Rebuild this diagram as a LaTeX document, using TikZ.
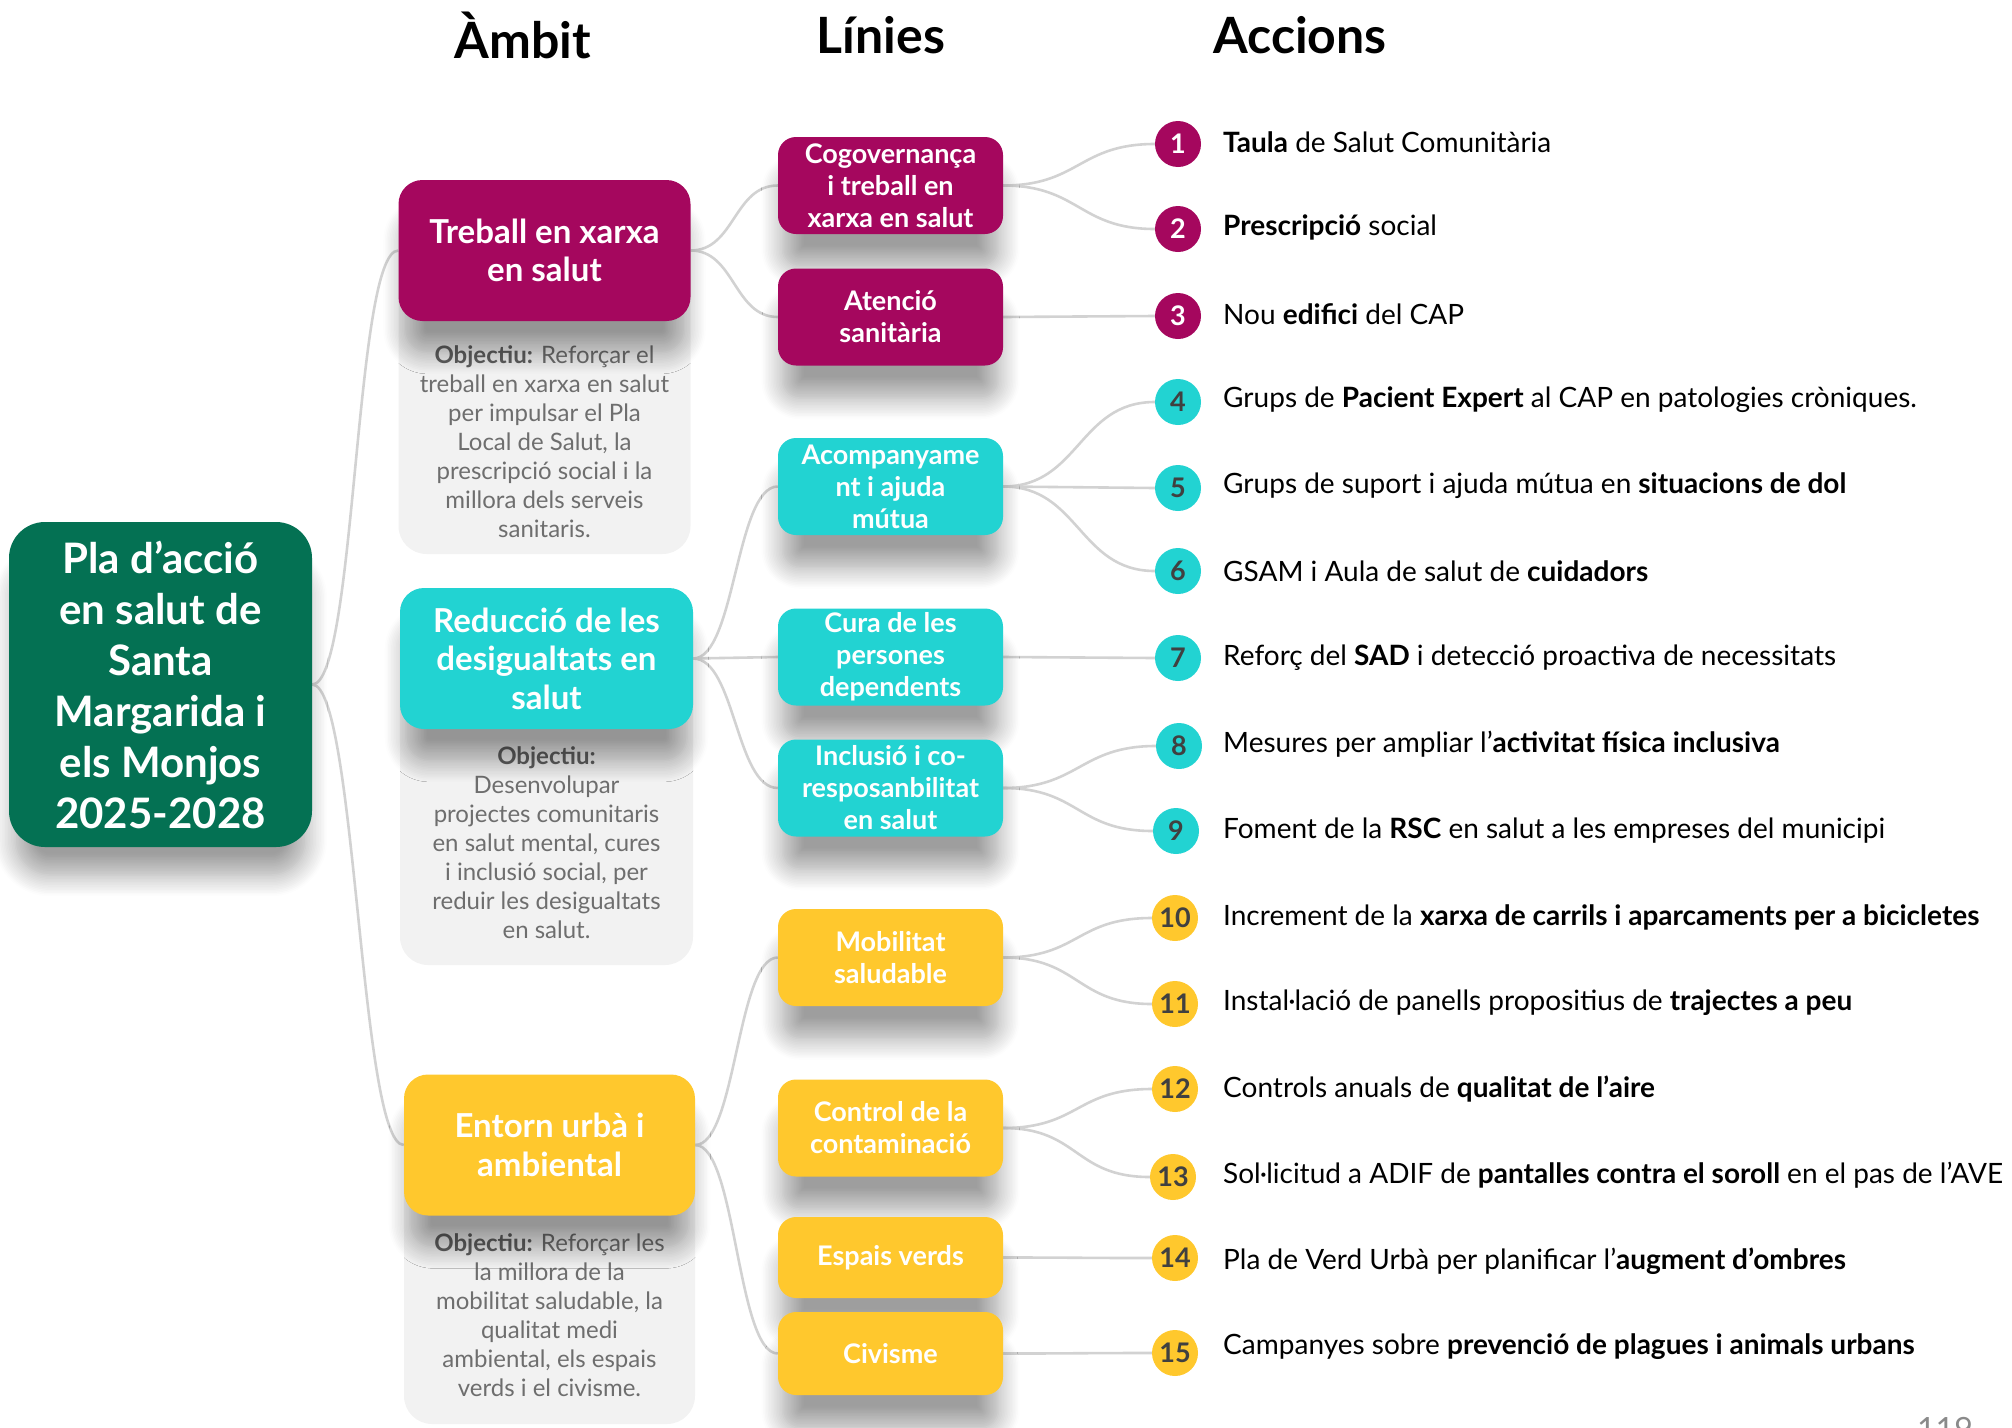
\documentclass[tikz,border=0pt]{standalone}
\usepackage{fontspec}
\setmainfont{Lato}
\usetikzlibrary{shadows.blur}
\pgfdeclarelayer{bg}
\pgfsetlayers{bg,main}
\definecolor{cmag}{HTML}{A5075E}
\definecolor{ccya}{HTML}{22D3D2}
\definecolor{cyel}{HTML}{FFC82D}
\definecolor{cgrn}{HTML}{047153}
\definecolor{cobj}{HTML}{F2F2F2}
\definecolor{cline}{HTML}{D2D2D2}
\definecolor{ctxt}{HTML}{6E6E6E}
\definecolor{cobjb}{HTML}{606060}
\definecolor{cnum}{HTML}{404040}
\definecolor{cpage}{HTML}{8A8A8A}
\tikzset{
  shad/.style={blur shadow={shadow xshift=0pt, shadow yshift=-36pt, shadow opacity=38, shadow blur radius=22pt, shadow blur steps=14, shadow scale=0.96}},
  box/.style={shad, inner sep=0pt, align=center, text=white},
  rootbox/.style={box, fill=cgrn, minimum width=303pt, minimum height=325pt, rounded corners=36pt, font=\fontsize{42}{51}\selectfont\bfseries},
  ambbox/.style={box, minimum width=292pt, minimum height=141pt, rounded corners=24pt, font=\fontsize{33}{38.5}\selectfont\bfseries},
  linbox/.style={box, minimum width=225pt, minimum height=97pt, rounded corners=18pt, font=\fontsize{27}{32}\selectfont\bfseries},
  objbox/.style={fill=cobj, rounded corners=28pt, minimum width=292pt, inner sep=0pt},
  objtxt/.style={align=center, text=ctxt, inner sep=0pt, font=\fontsize{24}{29}\selectfont},
  numc/.style={circle, minimum size=46pt, inner sep=0pt, font=\fontsize{27}{27}\selectfont\bfseries},
  act/.style={anchor=west, inner sep=0pt, text=black, font=\fontsize{28}{30}\selectfont},
  conn/.style={draw=cline, line width=2.6pt},
  hdr/.style={inner sep=0pt, font=\fontsize{50}{54}\selectfont\bfseries}
}
\newcommand{\ob}[1]{\textbf{\color{cobjb}#1}}
\begin{document}
\begin{tikzpicture}[x=1pt,y=-1pt]
\useasboundingbox (0,0) rectangle (2012,1427);

% headers
\node[hdr] (h1) at (523,35) {Àmbit};
\node[hdr] (h2) at (881,35) {Línies};
\node[hdr] (h3) at (1300,35) {Accions};

% objective boxes (behind)
\node[objbox, minimum height=354pt] (ob1) at (544.5,377) {};
\node[objbox, minimum height=357pt, minimum width=293pt] (ob2) at (546.5,786.5) {};
\node[objbox, minimum height=329pt, minimum width=291pt] (ob3) at (549.5,1259.5) {};

\node[objtxt] (ot1) at (544.5,442) {\ob{Objectiu:} Reforçar el\\treball en xarxa en salut\\per impulsar el Pla\\Local de Salut, la\\prescripció social i la\\millora dels serveis\\sanitaris.};
\node[objtxt] (ot2) at (546.5,843) {\ob{Objectiu:}\\Desenvolupar\\projectes comunitaris\\en salut mental, cures\\i inclusió social, per\\reduir les desigualtats\\en salut.};
\node[objtxt] (ot3) at (549.5,1315) {\ob{Objectiu:} Reforçar les\\la millora de la\\mobilitat saludable, la\\qualitat medi\\ambiental, els espais\\verds i el civisme.};

% root
\node[rootbox] (root) at (160.5,684.5) {Pla d’acció\\en salut de\\Santa\\Margarida i\\els Monjos\\2025-2028};

% ambit
\node[ambbox, fill=cmag] (am1) at (544.5,250.5) {Treball en xarxa\\en salut};
\node[ambbox, fill=ccya, minimum width=293pt] (am2) at (546.5,658.5) {Reducció de les\\desigualtats en\\salut};
\node[ambbox, fill=cyel, minimum width=291pt] (am3) at (549.5,1145) {Entorn urbà i\\ambiental};

% linies
\node[linbox, fill=cmag] (l1) at (890.5,185.5) {Cogovernança\\i treball en\\xarxa en salut};
\node[linbox, fill=cmag] (l2) at (890.5,317) {Atenció\\sanitària};
\node[linbox, fill=ccya] (l3) at (890.5,486.5) {Acompanyame\\nt i ajuda\\mútua};
\node[linbox, fill=ccya] (l4) at (890.5,657) {Cura de les\\persones\\dependents};
\node[linbox, fill=ccya] (l5) at (890.5,788) {Inclusió i co-\\resposanbilitat\\en salut};
\node[linbox, fill=cyel] (l6) at (890.5,957.5) {Mobilitat\\saludable};
\node[linbox, fill=cyel] (l7) at (890.5,1128) {Control de la\\contaminació};
\node[linbox, fill=cyel, minimum height=81pt] (l8) at (890.5,1257.5) {Espais verds};
\node[linbox, fill=cyel, minimum height=83pt] (l9) at (890.5,1353.5) {Civisme};

% numbers
\node[numc, fill=cmag, text=white] (n1) at (1178,144) {1};
\node[numc, fill=cmag, text=white] (n2) at (1178,229) {2};
\node[numc, fill=cmag, text=white] (n3) at (1178,316) {3};
\node[numc, fill=ccya, text=cnum] (n4) at (1178,402) {4};
\node[numc, fill=ccya, text=cnum] (n5) at (1178,488) {5};
\node[numc, fill=ccya, text=cnum] (n6) at (1178,571) {6};
\node[numc, fill=ccya, text=cnum] (n7) at (1178,658) {7};
\node[numc, fill=ccya, text=cnum] (n8) at (1179,746) {8};
\node[numc, fill=ccya, text=cnum] (n9) at (1176,831) {9};
\node[numc, fill=cyel, text=cnum] (n10) at (1175,918) {10};
\node[numc, fill=cyel, text=cnum] (n11) at (1175,1004) {11};
\node[numc, fill=cyel, text=cnum] (n12) at (1175,1089) {12};
\node[numc, fill=cyel, text=cnum] (n13) at (1173,1177) {13};
\node[numc, fill=cyel, text=cnum] (n14) at (1175,1258) {14};
\node[numc, fill=cyel, text=cnum] (n15) at (1175,1353) {15};

% actions
\node[act] (a1) at (1223,142) {\textbf{Taula} de Salut Comunitària};
\node[act] (a2) at (1223,227) {\textbf{Prescripció} social};
\node[act] (a3) at (1223,314) {Nou \textbf{edifici} del CAP};
\node[act] (a4) at (1223,400) {Grups de \textbf{Pacient Expert} al CAP en patologies cròniques.};
\node[act] (a5) at (1223,486) {Grups de suport i ajuda mútua en \textbf{situacions de dol}};
\node[act] (a6) at (1223,571) {GSAM i Aula de salut de \textbf{cuidadors}};
\node[act] (a7) at (1223,658) {Reforç del \textbf{SAD} i detecció proactiva de necessitats};
\node[act] (a8) at (1223,744) {Mesures per ampliar l’\textbf{activitat física inclusiva}};
\node[act] (a9) at (1223,831) {Foment de la \textbf{RSC} en salut a les empreses del municipi};
\node[act] (a10) at (1223,917) {Increment de la \textbf{xarxa de carrils i aparcaments per a bicicletes}};
\node[act] (a11) at (1223,1003) {Instal·lació de panells propositius de \textbf{trajectes a peu}};
\node[act] (a12) at (1223,1089) {Controls anuals de \textbf{qualitat de l’aire}};
\node[act] (a13) at (1223,1175) {Sol·licitud a ADIF de \textbf{pantalles contra el soroll} en el pas de l’AVE};
\node[act] (a14) at (1223,1261) {Pla de Verd Urbà per planificar l’\textbf{augment d’ombres}};
\node[act] (a15) at (1223,1347) {Campanyes sobre \textbf{prevenció de plagues i animals urbans}};

\node[anchor=base, inner sep=0pt, text=cpage, font=\fontsize{32}{32}\selectfont] (pg) at (1945,1440) {119};

% connectors (behind)
\begin{pgfonlayer}{bg}
\draw[conn] (root.east) .. controls +(44,0) and +(-44,0) .. (am1.west);
\draw[conn] (root.east) .. controls +(44,0) and +(-44,0) .. (am3.west);
\draw[conn] (am1.east) .. controls +(44,0) and +(-44,0) .. (l1.west);
\draw[conn] (am1.east) .. controls +(44,0) and +(-44,0) .. (l2.west);
\draw[conn] (am2.east) .. controls +(42,0) and +(-42,0) .. (l3.west);
\draw[conn] (am2.east) .. controls +(42,0) and +(-42,0) .. (l4.west);
\draw[conn] (am2.east) .. controls +(42,0) and +(-42,0) .. (l5.west);
\draw[conn] (am3.east) .. controls +(41,0) and +(-41,0) .. (l6.west);
\draw[conn] (am3.east) .. controls +(41,0) and +(-41,0) .. (l9.west);
\draw[conn] (l1.east) .. controls +(76,0) and +(-76,0) .. (n1.west);
\draw[conn] (l1.east) .. controls +(76,0) and +(-76,0) .. (n2.west);
\draw[conn] (l2.east) .. controls +(76,0) and +(-76,0) .. (n3.west);
\draw[conn] (l3.east) .. controls +(76,0) and +(-76,0) .. (n4.west);
\draw[conn] (l3.east) .. controls +(76,0) and +(-76,0) .. (n5.west);
\draw[conn] (l3.east) .. controls +(76,0) and +(-76,0) .. (n6.west);
\draw[conn] (l4.east) .. controls +(76,0) and +(-76,0) .. (n7.west);
\draw[conn] (l5.east) .. controls +(76,0) and +(-76,0) .. (n8.west);
\draw[conn] (l5.east) .. controls +(76,0) and +(-76,0) .. (n9.west);
\draw[conn] (l6.east) .. controls +(76,0) and +(-76,0) .. (n10.west);
\draw[conn] (l6.east) .. controls +(76,0) and +(-76,0) .. (n11.west);
\draw[conn] (l7.east) .. controls +(76,0) and +(-76,0) .. (n12.west);
\draw[conn] (l7.east) .. controls +(76,0) and +(-76,0) .. (n13.west);
\draw[conn] (l8.east) .. controls +(76,0) and +(-76,0) .. (n14.west);
\draw[conn] (l9.east) .. controls +(76,0) and +(-76,0) .. (n15.west);
\end{pgfonlayer}
\end{tikzpicture}
\end{document}
